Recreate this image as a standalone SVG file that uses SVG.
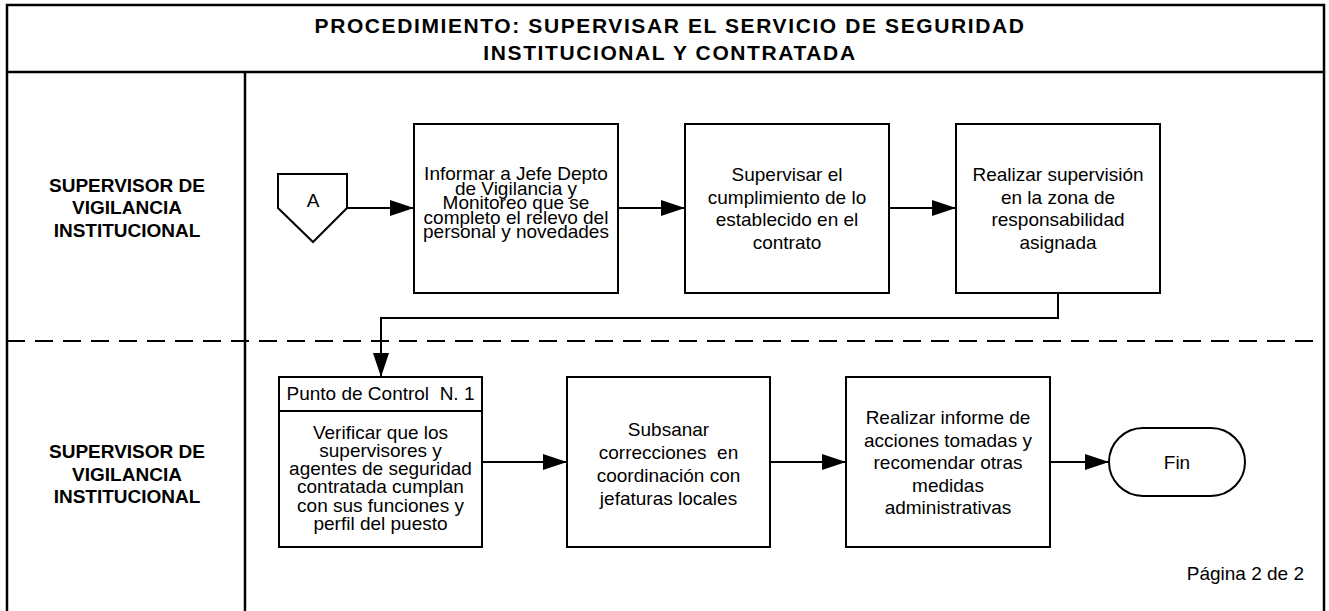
<svg xmlns="http://www.w3.org/2000/svg" width="1329" height="611" viewBox="0 0 1329 611">
<style>
.frame{fill:none;stroke:#000;stroke-width:2.5}
.box{fill:#fff;stroke:#000;stroke-width:2}
.t{font-family:"Liberation Sans",Arial,sans-serif;font-size:19px;fill:#000;text-anchor:middle}
.b{font-family:"Liberation Sans",Arial,sans-serif;font-size:19px;font-weight:bold;fill:#000;text-anchor:middle}
.title{font-family:"Liberation Sans",Arial,sans-serif;font-size:21px;font-weight:bold;fill:#000;text-anchor:middle;letter-spacing:1.6px}
.c{fill:none;stroke:#000;stroke-width:2}
</style>
<defs>
<marker id="ah" markerUnits="userSpaceOnUse" markerWidth="24" markerHeight="16" refX="24" refY="8" orient="auto">
<path d="M0,0 L24,8 L0,16 z" fill="#000"/>
</marker>
</defs>
<rect width="1329" height="611" fill="#fff"/>
<g id="frame">
<rect class="frame" x="7" y="5" width="1317" height="610"/>
<line class="frame" x1="7" y1="72" x2="1324" y2="72"/>
<line class="frame" x1="245" y1="72" x2="245" y2="611"/>
<line x1="7" y1="341" x2="1324" y2="341" stroke="#000" stroke-width="2" stroke-dasharray="18,10"/>
<text class="title" x="670" y="33">PROCEDIMIENTO: SUPERVISAR EL SERVICIO DE SEGURIDAD</text>
<text class="title" x="670" y="60">INSTITUCIONAL Y CONTRATADA</text>
</g>
<g id="lane1">
<text class="b" x="127" y="192">SUPERVISOR DE</text>
<text class="b" x="127" y="214">VIGILANCIA</text>
<text class="b" x="127" y="237">INSTITUCIONAL</text>
</g>
<g id="lane2">
<text class="b" x="127" y="458">SUPERVISOR DE</text>
<text class="b" x="127" y="481">VIGILANCIA</text>
<text class="b" x="127" y="503">INSTITUCIONAL</text>
</g>
<g id="connectors">
<line class="c" x1="347" y1="208" x2="414" y2="208" marker-end="url(#ah)"/>
<line class="c" x1="618" y1="208" x2="685" y2="208" marker-end="url(#ah)"/>
<line class="c" x1="889" y1="208" x2="956" y2="208" marker-end="url(#ah)"/>
<polyline class="c" points="1058,293 1058,318 381,318 381,377" marker-end="url(#ah)"/>
<line class="c" x1="482" y1="462" x2="567" y2="462" marker-end="url(#ah)"/>
<line class="c" x1="770" y1="462" x2="846" y2="462" marker-end="url(#ah)"/>
<line class="c" x1="1050" y1="462" x2="1109" y2="462" marker-end="url(#ah)"/>
</g>
<g id="nodeA">
<polygon class="box" points="278,174 347,174 347,208 313,242 278,208"/>
<text class="t" x="313" y="207">A</text>
</g>
<g id="node1">
<rect class="box" x="414" y="124" width="204" height="169"/>
<text class="t" x="516" y="180">Informar a Jefe Depto</text>
<text class="t" x="516" y="194.5">de Vigilancia y</text>
<text class="t" x="516" y="209">Monitoreo que se</text>
<text class="t" x="516" y="223.5">completo el relevo del</text>
<text class="t" x="516" y="238">personal y novedades</text>
</g>
<g id="node2">
<rect class="box" x="685" y="124" width="204" height="169"/>
<text class="t" x="787" y="181">Supervisar el</text>
<text class="t" x="787" y="203.5">cumplimiento de lo</text>
<text class="t" x="787" y="226">establecido en el</text>
<text class="t" x="787" y="248.5">contrato</text>
</g>
<g id="node3">
<rect class="box" x="956" y="124" width="204" height="169"/>
<text class="t" x="1058" y="181">Realizar supervisión</text>
<text class="t" x="1058" y="203.5">en la zona de</text>
<text class="t" x="1058" y="226">responsabilidad</text>
<text class="t" x="1058" y="248.5">asignada</text>
</g>
<g id="node4">
<rect class="box" x="279" y="377" width="203" height="170"/>
<line class="c" x1="279" y1="411" x2="482" y2="411"/>
<text class="t" x="380.5" y="400" xml:space="preserve">Punto de Control  N. 1</text>
<text class="t" x="380.5" y="439">Verificar que los</text>
<text class="t" x="380.5" y="457">supervisores y</text>
<text class="t" x="380.5" y="475">agentes de seguridad</text>
<text class="t" x="380.5" y="493">contratada cumplan</text>
<text class="t" x="380.5" y="511.5">con sus funciones y</text>
<text class="t" x="380.5" y="530">perfil del puesto</text>
</g>
<g id="node5">
<rect class="box" x="567" y="377" width="203" height="170"/>
<text class="t" x="668.5" y="436">Subsanar</text>
<text class="t" x="668.5" y="459" xml:space="preserve">correcciones  en</text>
<text class="t" x="668.5" y="482">coordinación con</text>
<text class="t" x="668.5" y="505">jefaturas locales</text>
</g>
<g id="node6">
<rect class="box" x="846" y="377" width="204" height="170"/>
<text class="t" x="948" y="424">Realizar informe de</text>
<text class="t" x="948" y="447">acciones tomadas y</text>
<text class="t" x="948" y="469">recomendar otras</text>
<text class="t" x="948" y="492">medidas</text>
<text class="t" x="948" y="514">administrativas</text>
</g>
<g id="nodeFin">
<rect class="box" x="1109" y="428" width="136" height="68" rx="34" ry="34"/>
<text class="t" x="1177" y="469">Fin</text>
</g>
<g id="page">
<text class="t" x="1304" y="580" style="text-anchor:end">Página 2 de 2</text>
</g>
</svg>
